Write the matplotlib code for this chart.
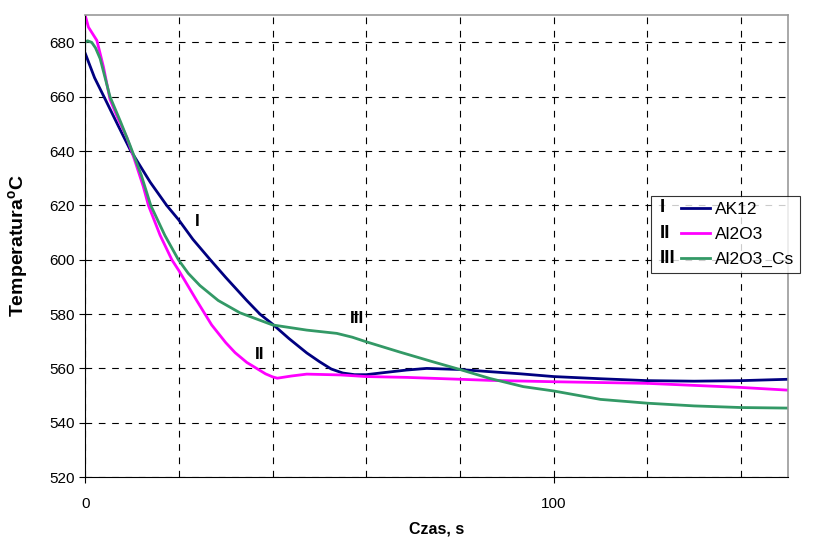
import matplotlib.pyplot as plt
from matplotlib.lines import Line2D
from matplotlib.legend_handler import HandlerBase
from matplotlib.text import Text
import numpy as np

plt.rcParams['font.family'] = ['Liberation Sans', 'DejaVu Sans']

# AK12 (I)
t_ak12 = [0, 2, 4.3, 7, 9.6, 13.9, 17.4, 20, 23, 26.7, 30, 34.5, 37.3, 40,
          43.5, 47.3, 50, 52.5, 55, 57.5, 60, 64, 68.6, 72.9, 80, 86.4, 93,
          100, 110, 120, 130, 140, 150]
T_ak12 = [676, 667, 659, 649.5, 640.5, 628.5, 620, 614.6, 607.5, 600, 593.5,
          585, 580, 576.3, 571, 565.7, 562.5, 559.8, 558.3, 557.7, 557.7,
          558.5, 559.4, 560, 559.6, 558.8, 558, 557, 556.2, 555.5, 555.3,
          555.5, 556]

# Al2O3 (II)
t_al = [0, 0.7, 2.5, 3.9, 5.3, 7, 8.9, 10.5, 12.4, 13.5, 16, 18.5, 20, 23.8,
        27, 30, 32, 34.5, 36.6, 38.5, 40, 41, 44, 47.3, 54.5, 60, 68.6, 80,
        86.4, 100, 120, 140, 150]
T_al = [690, 685.6, 680.7, 671, 659, 652, 645, 637, 627, 620, 609, 600, 596,
        585, 576, 569.5, 565.8, 562.2, 560, 558, 556.9, 556.4, 557.2, 557.9,
        557.6, 557, 556.7, 556, 555.6, 555.1, 554.5, 553, 552]

# Al2O3_Cs (III)
t_cs = [0, 0.5, 1.4, 2.2, 3.2, 5.3, 7.5, 9.6, 12, 14, 17, 19.9, 22, 24.5,
        28.4, 33, 40, 47.3, 53.7, 57, 60, 67.2, 74.3, 80, 86.4, 93.5, 100,
        110, 120, 130, 140, 150]
T_cs = [680, 680.6, 680, 678, 674, 660, 651, 642, 631, 620, 609, 600, 595,
        590.5, 585, 580.5, 576, 574.1, 572.9, 571.5, 569.8, 566, 562.4,
        559.6, 556.3, 553.3, 551.7, 548.6, 547.2, 546.2, 545.6, 545.4]

series_names = ['AK12', 'Al2O3', 'Al2O3_Cs']
roman = ['I', 'II', 'III']
colors = ['#000080', '#ff00ff', '#339966']


class RomanHandler(HandlerBase):
    def __init__(self, numeral):
        super().__init__()
        self.numeral = numeral

    def create_artists(self, legend, orig_handle, xdescent, ydescent,
                       width, height, fontsize, trans):
        y = height / 2 - ydescent
        t = Text(-xdescent + 2, y, self.numeral, fontsize=fontsize * 1.08,
                 fontweight='bold', va='center', ha='left',
                 fontfamily=['Liberation Sans', 'DejaVu Sans'])
        t.set_transform(trans)
        ln = Line2D([-xdescent + 0.45 * width, width - xdescent], [y, y],
                    color=orig_handle.get_color(), lw=2)
        ln.set_transform(trans)
        return [t, ln]


fig = plt.figure(figsize=(8.19, 5.44), dpi=100)
ax = fig.add_axes([0.104, 0.123, 0.858, 0.849])

h1, = ax.plot(t_ak12, T_ak12, color=colors[0], lw=2)
h2, = ax.plot(t_al, T_al, color=colors[1], lw=2)
h3, = ax.plot(t_cs, T_cs, color=colors[2], lw=2)

ax.set_xlim(0, 150)
ax.set_ylim(520, 690)
ax.set_yticks(np.arange(520, 681, 20))
ax.set_xticks([0, 100])
ax.set_xticks(np.arange(20, 150, 20), minor=True)
ax.tick_params(axis='x', which='minor', length=0)
ax.tick_params(axis='both', labelsize=11, direction='out', length=4)
ax.tick_params(axis='x', pad=10)
ax.grid(True, which='both', color='black', linestyle=(0, (6, 6)), lw=0.8)
ax.set_axisbelow(True)

for s in ['top', 'right']:
    ax.spines[s].set_color('#999999')
    ax.spines[s].set_linewidth(1.2)

ax.set_xlabel('Czas, s', fontsize=11.5, fontweight='bold')
ax.xaxis.set_label_coords(0.5, -0.097)
ax.set_ylabel('Temperatura$^{\\mathregular{o}}$C', fontsize=14,
              fontweight='bold')
ax.yaxis.set_label_coords(-0.077, 0.5)

# curve annotations
ax.text(24, 614, 'I', fontsize=12.5, fontweight='bold', ha='center', va='center')
ax.text(37.3, 565, 'II', fontsize=12.5, fontweight='bold', ha='center', va='center')
ax.text(58, 578.5, 'III', fontsize=12.5, fontweight='bold', ha='center', va='center')

handles = [h1, h2, h3]
leg = fig.legend(handles, series_names, loc='upper left',
                 bbox_to_anchor=(0.795, 0.640), borderaxespad=0,
                 handler_map={h: RomanHandler(r) for h, r in zip(handles, roman)},
                 fontsize=12.5, frameon=True, fancybox=False,
                 edgecolor='black', handlelength=3.05, handletextpad=0.29,
                 labelspacing=0.57, borderpad=0.35)
leg.get_frame().set_linewidth(0.8)

fig.savefig('out.png', dpi=100)
